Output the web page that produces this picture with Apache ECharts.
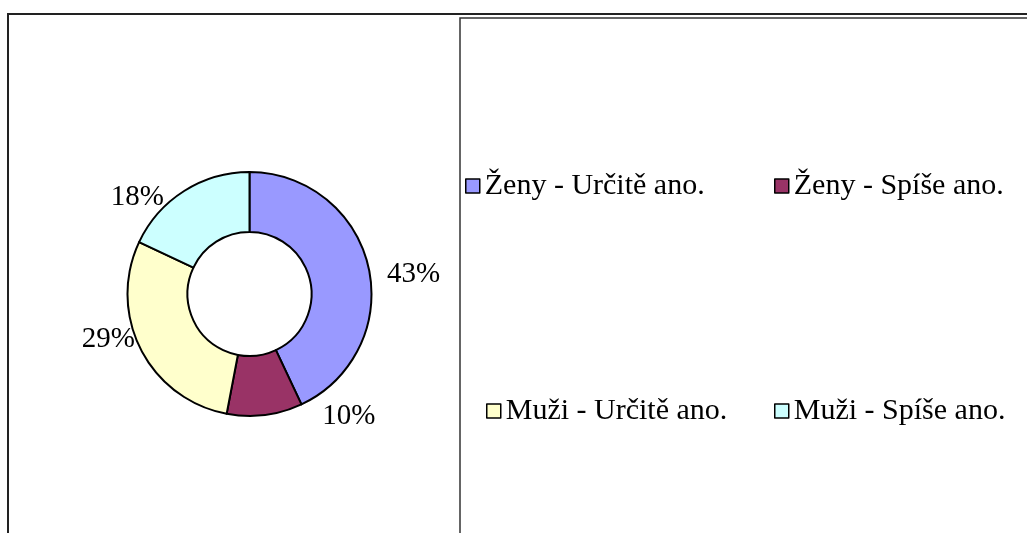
<!DOCTYPE html>
<html>
<head>
<meta charset="utf-8">
<script src="https://cdn.jsdelivr.net/npm/echarts@6/dist/echarts.min.js"></script>
<style>
  html, body { margin: 0; padding: 0; background: #fff; }
  #chart { width: 1027px; height: 533px; }
</style>
</head>
<body>
<div id="chart"></div>
<script>
const categories = ['Ženy - Určitě ano.', 'Ženy - Spíše ano.', 'Muži - Určitě ano.', 'Muži - Spíše ano.'];
const values = [43, 10, 29, 18];
const colours = ['#9999FF', '#993366', '#FFFFCC', '#CCFFFF'];

// nudges so the labels sit where Excel put them
const labelNudge = [[-5, 11], [50, -17], [16, -19], [-5, 22]];

const FONT = "'Liberation Serif', 'Times New Roman', serif";

const chart = echarts.init(document.getElementById('chart'));

function legendAt(name, left, top) {
  return {
    data: [name],
    left: left,
    top: top,
    padding: 0,
    icon: 'rect',
    itemWidth: 14,
    itemHeight: 14,
    selectedMode: false,
    itemStyle: { borderColor: '#000', borderWidth: 1.5 },
    textStyle: { fontFamily: FONT, fontSize: 30, color: '#000' }
  };
}

chart.setOption({
  animation: false,
  backgroundColor: '#fff',

  graphic: [
    {
      type: 'rect',
      shape: { x: 8, y: 14, width: 1100, height: 600 },
      style: { fill: 'none', stroke: '#222', lineWidth: 2 }
    },
    {
      type: 'rect',
      shape: { x: 460, y: 18, width: 700, height: 600 },
      style: { fill: 'none', stroke: '#333', lineWidth: 1.5 }
    }
  ],

  legend: [
    legendAt(categories[0], 465, 171),
    legendAt(categories[1], 774, 171),
    legendAt(categories[2], 486, 396),
    legendAt(categories[3], 774, 396)
  ],

  series: [{
    type: 'pie',
    center: [249.5, 294],
    radius: [62, 122],
    startAngle: 90,
    clockwise: true,
    avoidLabelOverlap: false,
    itemStyle: { borderColor: '#000', borderWidth: 2 },
    emphasis: { disabled: true },
    label: {
      show: true,
      position: 'outside',
      formatter: '{d}%',
      fontFamily: FONT,
      fontSize: 29,
      color: '#000'
    },
    labelLine: { show: false, length: 19, length2: 0 },
    labelLayout: p => ({ dx: labelNudge[p.dataIndex][0], dy: labelNudge[p.dataIndex][1] }),
    data: categories.map((c, i) => ({
      name: c,
      value: values[i],
      itemStyle: { color: colours[i] }
    }))
  }]
});
</script>
</body>
</html>
